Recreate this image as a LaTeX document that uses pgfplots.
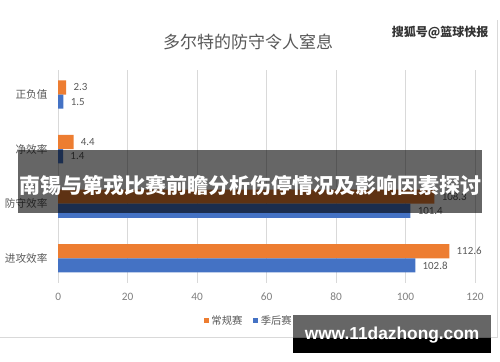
\documentclass[border=0pt]{standalone}
\usepackage{fontspec}
\setmainfont{Carlito}
\newfontfamily\cjk{Noto Sans CJK SC}
\newfontfamily\arial{Liberation Sans}
\usepackage{pgfplots}
\pgfplotsset{compat=1.18}
\definecolor{xlorange}{HTML}{ED7D31}
\definecolor{xlblue}{HTML}{4472C4}
\definecolor{txtgray}{HTML}{595959}
\definecolor{lblgray}{HTML}{7F7F7F}
\definecolor{gridgray}{HTML}{D9D9D9}
\begin{document}
\begin{tikzpicture}
\fill[white] (0,0) rectangle (375pt,271.5pt);
\begin{scope}[x=0.75pt,y=-0.75pt,yshift=271.5pt]
\draw[gridgray] (0,337) -- (497,337) -- (497,20);
\node[text=txtgray, font=\cjk\fontsize{12.75}{14}\selectfont] at (248,42) {多尔特的防守令人窒息};
\node[text=black!80, font=\cjk\bfseries\fontsize{9}{10}\selectfont] at (440,33) {搜狐号@篮球快报};
\end{scope}
\begin{axis}[
  at={(43.5pt,59.25pt)}, anchor=south west,
  scale only axis, width=312.75pt, height=159.75pt,
  xmin=0, xmax=120, ymin=-0.45, ymax=3.45,
  xbar, bar width=0.26,
  xtick={0,20,...,120}, ytick={0,1,2,3},
  yticklabels={进攻效率,防守效率,净效率,正负值},
  axis line style={draw=none}, major tick length=0pt,
  xmajorgrids, grid style={gridgray},
  /pgf/number format/assume math mode=true,
  xticklabel style={font=\fontsize{8.5}{10}\selectfont, text=lblgray, yshift=-4pt},
  yticklabel style={font=\cjk\fontsize{8}{9}\selectfont, text=txtgray, xshift=-4.5pt},
  nodes near coords,
  nodes near coords style={font=\fontsize{8.2}{9}\selectfont, text=txtgray, xshift=2pt},
  clip=false,
  legend style={at={(0.458,-0.178)}, anchor=center, draw=none, fill=none,
    legend columns=2, font=\cjk\fontsize{7.75}{9}\selectfont, text=txtgray,
    /tikz/every even column/.append style={column sep=6pt}},
  legend image code/.code={\fill[#1] (0pt,-1.9pt) rectangle (3.8pt,1.9pt);},
]
\addplot[fill=xlorange, draw=none, bar shift=0.13] coordinates {(112.6,0) (108.3,1) (4.4,2) (2.3,3)};
\addplot[fill=xlblue, draw=none, bar shift=-0.13] coordinates {(102.8,0) (101.4,1) (1.4,2) (1.5,3)};
\legend{常规赛,季后赛}
\end{axis}
\begin{scope}[x=0.75pt,y=-0.75pt,yshift=271.5pt]
\fill[black, opacity=0.6] (18,150) rectangle (482,213);
\node[white, font=\cjk\bfseries\fontsize{15.75}{17}\selectfont] at (250,186) {南锡与第戎比赛前瞻分析伤停情况及影响因素探讨};
\fill[black, opacity=0.6] (293,315) rectangle (491,338);
\fill[black] (293,338) rectangle (491,353);
\node[white, font=\arial\bfseries\fontsize{13}{15}\selectfont] at (392,335) {www.11dazhong.com};
\end{scope}
\end{tikzpicture}
\end{document}
